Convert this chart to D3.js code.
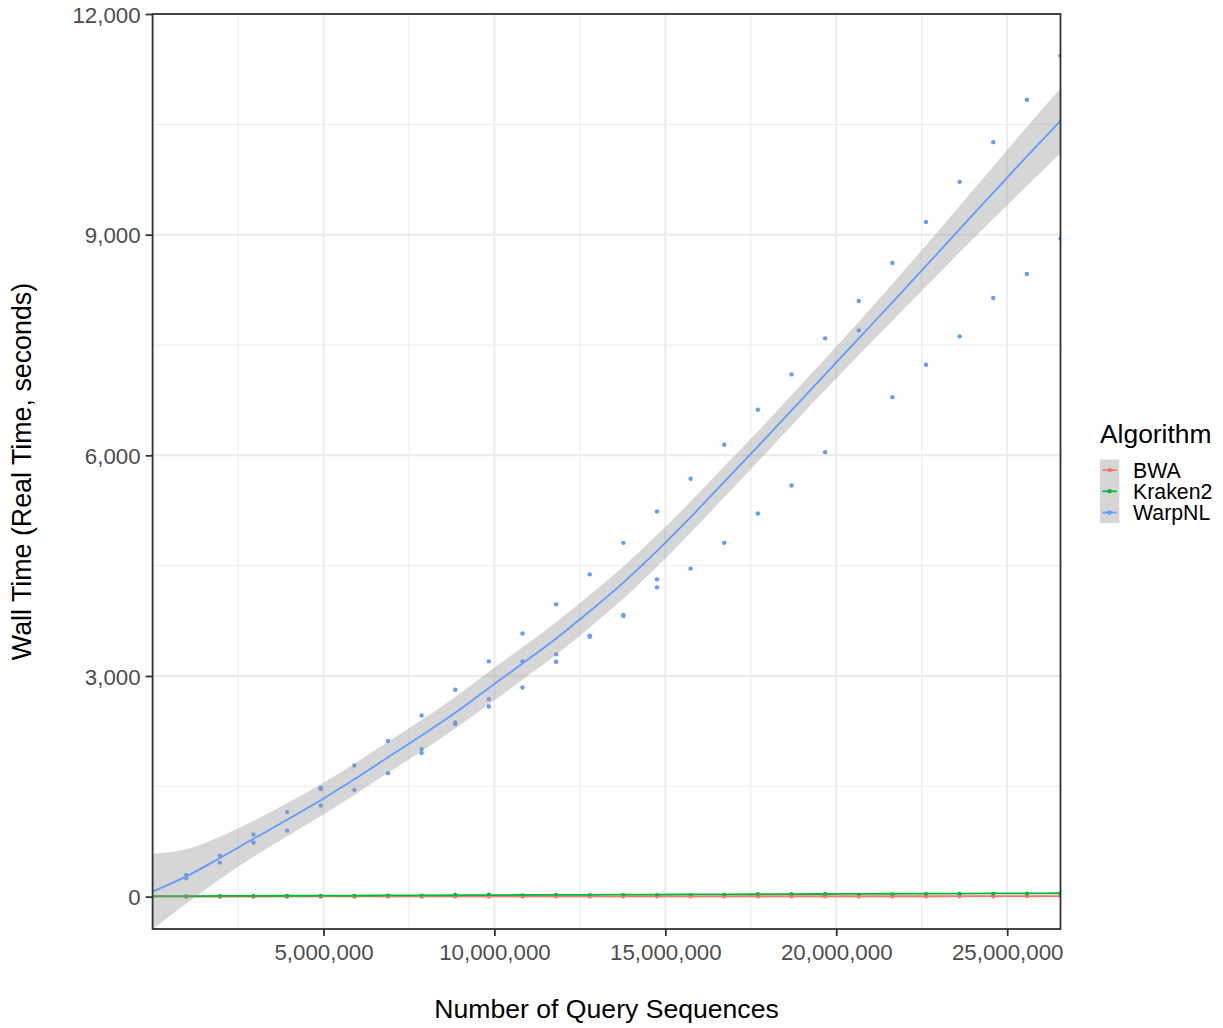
<!DOCTYPE html>
<html><head><meta charset="utf-8">
<script src="https://cdn.jsdelivr.net/npm/d3@7"></script>
<style>
html,body{margin:0;padding:0;background:#fff;}
svg{display:block;font-family:"Liberation Sans",Arial,sans-serif;}
</style></head>
<body>
<script>
// ---------- data ----------
const algorithms = ["BWA", "Kraken2", "WarpNL"];
const colors = ["#F8766D", "#00BA38", "#619CFF"];

// query sizes (number of sequences)
const querySizes = [983700, 1967400, 2951100, 3934800, 4918500, 5902200, 6885900, 7869600, 8853300,
  9837000, 10820700, 11804400, 12788100, 13771800, 14755500, 15739200, 16722900, 17706600,
  18690300, 19674000, 20657700, 21641400, 22625100, 23608800, 24592500, 25576200, 26559900];

// WarpNL observed wall times (replicates per query size)
const warpX = [
  983700, 983700, 1967400, 1967400, 2951100, 2951100, 3934800, 3934800, 4918500, 4918500, 4918500,
  5902200, 5902200, 6885900, 6885900, 7869600, 7869600, 7869600, 8853300, 8853300, 8853300,
  9837000, 9837000, 9837000, 10820700, 10820700, 10820700, 11804400, 11804400, 11804400,
  12788100, 12788100, 12788100, 13771800, 13771800, 13771800, 14755500, 14755500, 14755500,
  15739200, 15739200, 16722900, 16722900, 17706600, 17706600, 18690300, 18690300,
  19674000, 19674000, 20657700, 20657700, 21641400, 21641400, 22625100, 22625100,
  23608800, 23608800, 24592500, 24592500, 25576200, 25576200, 26559900, 26559900];
const warpY = [
  296, 250, 558, 463, 844, 735, 1149, 898, 1462, 1480, 1239,
  1783, 1452, 2115, 1679, 2463, 2006, 1952, 2813, 2368, 2346,
  3198, 2687, 2586, 3579, 3198, 2844, 3974, 3294, 3194,
  4382, 3548, 3534, 4810, 3830, 3816, 5236, 4314, 4205,
  5681, 4460, 6143, 4810, 6620, 5208, 7100, 5589,
  7590, 6043, 8098, 7699, 8615, 6791, 9173, 7232,
  9718, 7617, 10258, 8139, 10834, 8466, 11432, 8947];

// Kraken2 and BWA observed wall times (one per query size)
const krakenY = [4, 6, 7, 8, 10, 11, 12, 13, 24, 26, 15, 24, 18, 19, 20, 21, 22, 34, 33, 35, 26, 30, 32, 35, 38, 40, 42];
const bwaY = [1, 1, 2, 2, 2, 2, 3, 3, 3, 3, 4, 4, 4, 4, 4, 5, 5, 5, 5, 5, 6, 6, 6, 6, 6, 7, 7];

// smoothed (loess) fits
const smoothX = [0, 983700, 1967400, 2951100, 3934800, 4918500, 5902200, 6885900, 7869600, 8853300,
  9837000, 10820700, 11804400, 12788100, 13771800, 14755500, 15739200, 16722900, 17706600,
  18690300, 19674000, 20657700, 21641400, 22625100, 23608800, 24592500, 25576200, 26559900];
const warpFit = [68, 275, 525, 786, 1045, 1310, 1595, 1895, 2190, 2500, 2836, 3170, 3510, 3880,
  4270, 4700, 5160, 5640, 6120, 6610, 7100, 7590, 8080, 8575, 9075, 9570, 10065, 10548];
const warpCI = [515, 370, 290, 245, 225, 215, 212, 212, 212, 215, 220, 222, 222, 220, 218, 215,
  212, 210, 208, 208, 212, 225, 250, 280, 315, 355, 400, 440];
const krakenFit = [6, 7, 9, 10, 12, 13, 15, 16, 18, 19, 21, 22, 24, 25, 27, 28, 30, 31, 33, 34, 36, 37, 39, 40, 42, 43, 45, 46];
const krakenCI = [6, 5, 5, 4, 4, 4, 4, 4, 4, 4, 4, 4, 4, 4, 4, 4, 4, 4, 4, 4, 4, 4, 4, 4, 4, 5, 5, 6];
const bwaFit = [2, 2, 2, 2, 3, 3, 3, 3, 3, 3, 3, 4, 4, 4, 4, 4, 4, 4, 5, 5, 5, 5, 5, 5, 6, 6, 6, 6];
const bwaCI = [2, 2, 2, 2, 2, 2, 2, 2, 2, 2, 2, 2, 2, 2, 2, 2, 2, 2, 2, 2, 2, 2, 2, 2, 2, 2, 2, 2];

const xTicks = [5000000, 10000000, 15000000, 20000000, 25000000];
const xMinor = [2500000, 7500000, 12500000, 17500000, 22500000];
const yTicks = [0, 3000, 6000, 9000, 12000];
const yMinor = [1500, 4500, 7500, 10500];
const xDomain = [0, 26559900];
const yDomain = [-440, 12000];

// ---------- layout ----------
const W = 1223, H = 1028;
const P = {left: 152.6, right: 1060.5, top: 14, bottom: 929};
const fmt = d3.format(",");

const svg = d3.select("body").append("svg").attr("width", W).attr("height", H);
const x = d3.scaleLinear().domain(xDomain).range([P.left, P.right]);
const y = d3.scaleLinear().domain(yDomain).range([P.bottom, P.top]);

svg.append("defs").append("clipPath").attr("id", "clip")
  .append("rect").attr("x", P.left).attr("y", P.top)
  .attr("width", P.right - P.left).attr("height", P.bottom - P.top);

// grid
const grid = svg.append("g");
grid.selectAll(".xmin").data(xMinor).join("line")
  .attr("x1", d => x(d)).attr("x2", d => x(d)).attr("y1", P.top).attr("y2", P.bottom)
  .attr("stroke", "#EBEBEB").attr("stroke-width", 1);
grid.selectAll(".ymin").data(yMinor).join("line")
  .attr("y1", d => y(d)).attr("y2", d => y(d)).attr("x1", P.left).attr("x2", P.right)
  .attr("stroke", "#EBEBEB").attr("stroke-width", 1);
grid.selectAll(".xmaj").data(xTicks).join("line")
  .attr("x1", d => x(d)).attr("x2", d => x(d)).attr("y1", P.top).attr("y2", P.bottom)
  .attr("stroke", "#EBEBEB").attr("stroke-width", 2);
grid.selectAll(".ymaj").data(yTicks).join("line")
  .attr("y1", d => y(d)).attr("y2", d => y(d)).attr("x1", P.left).attr("x2", P.right)
  .attr("stroke", "#EBEBEB").attr("stroke-width", 2);

const plot = svg.append("g").attr("clip-path", "url(#clip)");

// points
const pts = [];
bwaY.forEach((v, i) => pts.push({x: querySizes[i], y: v, c: colors[0]}));
krakenY.forEach((v, i) => pts.push({x: querySizes[i], y: v, c: colors[1]}));
warpY.forEach((v, i) => pts.push({x: warpX[i], y: v, c: colors[2]}));
plot.selectAll("circle.pt").data(pts).join("circle")
  .attr("cx", d => x(d.x)).attr("cy", d => y(d.y)).attr("r", 2.2)
  .attr("fill", d => d.c);

// smooths
const fits = [[bwaFit, bwaCI], [krakenFit, krakenCI], [warpFit, warpCI]];
fits.forEach(([fit, ci], k) => {
  const rows = smoothX.map((xv, i) => ({x: xv, f: fit[i], lo: fit[i] - ci[i], hi: fit[i] + ci[i]}));
  const area = d3.area().curve(d3.curveMonotoneX)
    .x(d => x(d.x)).y0(d => y(d.lo)).y1(d => y(d.hi));
  const line = d3.line().curve(d3.curveMonotoneX).x(d => x(d.x)).y(d => y(d.f));
  plot.append("path").datum(rows).attr("d", area).attr("fill", "#999999").attr("fill-opacity", 0.4);
  plot.append("path").datum(rows).attr("d", line).attr("fill", "none")
    .attr("stroke", colors[k]).attr("stroke-width", 1.8);
});

// panel border
svg.append("rect").attr("x", P.left).attr("y", P.top)
  .attr("width", P.right - P.left).attr("height", P.bottom - P.top)
  .attr("fill", "none").attr("stroke", "#333333").attr("stroke-width", 1.8);

// axes
const xAxis = svg.append("g").attr("transform", `translate(0,${P.bottom})`)
  .call(d3.axisBottom(x).tickValues(xTicks).tickFormat(fmt).tickSize(7).tickPadding(8));
const yAxis = svg.append("g").attr("transform", `translate(${P.left},0)`)
  .call(d3.axisLeft(y).tickValues(yTicks).tickFormat(fmt).tickSize(7).tickPadding(5));
[xAxis, yAxis].forEach(a => {
  a.select(".domain").remove();
  a.selectAll(".tick line").attr("stroke", "#333333").attr("stroke-width", 1.8);
  a.selectAll(".tick text").attr("fill", "#4D4D4D")
    .style("font-size", "22.3px").style("font-family", "'Liberation Sans', Arial, sans-serif");
});
yAxis.selectAll(".tick text").attr("dy", "0.36em");

// axis titles
svg.append("text").attr("x", (P.left + P.right) / 2).attr("y", 1018)
  .attr("text-anchor", "middle").style("font-size", "26.6px").attr("fill", "#000")
  .text("Number of Query Sequences");
svg.append("text").attr("transform", `translate(31,${(P.top + P.bottom) / 2}) rotate(-90)`)
  .attr("text-anchor", "middle").style("font-size", "26.8px").attr("fill", "#000")
  .text("Wall Time (Real Time, seconds)");

// legend
const lg = svg.append("g");
lg.append("text").attr("x", 1100).attr("y", 443).style("font-size", "26.4px").attr("fill", "#000")
  .text("Algorithm");
const keyH = 21.2, keyTop = 459.5, keyX = 1100, keyW = 19.3;
algorithms.forEach((a, i) => {
  const cy = keyTop + keyH * i + keyH / 2;
  lg.append("rect").attr("x", keyX).attr("y", keyTop + keyH * i).attr("width", keyW).attr("height", keyH)
    .attr("fill", "#999999").attr("fill-opacity", 0.4);
  lg.append("line").attr("x1", keyX + 2.5).attr("x2", keyX + keyW - 2.5).attr("y1", cy).attr("y2", cy)
    .attr("stroke", colors[i]).attr("stroke-width", 1.8);
  lg.append("circle").attr("cx", keyX + keyW / 2).attr("cy", cy).attr("r", 2.2).attr("fill", colors[i]);
  lg.append("text").attr("x", 1133).attr("y", cy + 7.6).style("font-size", "21.3px").attr("fill", "#000")
    .text(a);
});
</script>
</body></html>
